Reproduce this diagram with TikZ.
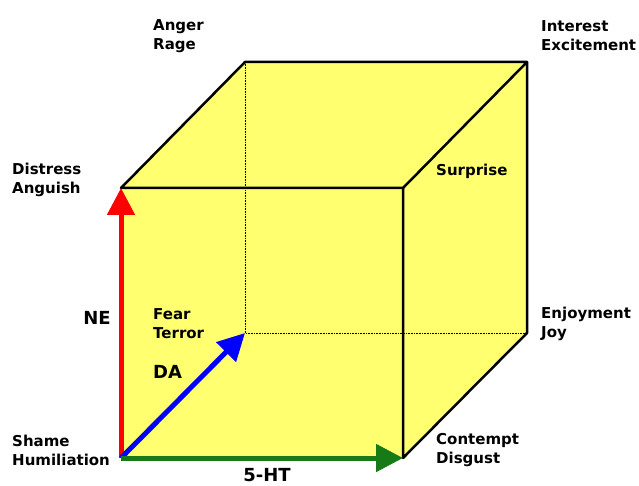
\documentclass[tikz,border=0pt]{standalone}
\usepackage{fontspec}
\setmainfont{DejaVu Sans}
\usepackage{xcolor}
\usepackage{tikz}
\usetikzlibrary{positioning,arrows.meta}
\definecolor{cubeyellow}{RGB}{255,255,112}
\definecolor{htgreen}{RGB}{22,122,22}

\begin{document}
\begin{tikzpicture}[x=1pt, y=-1pt,
    edge/.style={line width=2.5pt, line join=round},
    hidden/.style={densely dotted, line width=0.6pt},
    axis/.style={line width=5pt, -{Triangle[length=27pt,width=27pt]}},
    emo/.style={font=\bfseries\fontsize{15}{19}\selectfont, align=left, inner sep=0pt},
    nt/.style={emo, font=\bfseries\fontsize{18}{19}\selectfont}]
  \useasboundingbox (0,0) rectangle (639,486);

  % corners of the cube
  \coordinate (shame)    at (121,458);
  \coordinate (distress) at (121,188);
  \coordinate (surprise) at (403,188);
  \coordinate (contempt) at (403,458);
  \coordinate (fear)     at (245,333);
  \coordinate (anger)    at (245,62);
  \coordinate (interest) at (527,62);
  \coordinate (enjoy)    at (527,333);

  \fill[cubeyellow] (shame) -- (distress) -- (anger) -- (interest)
    -- (enjoy) -- (contempt) -- cycle;
  \draw[hidden] (anger) -- (fear) -- (enjoy);
  \draw[edge] (distress) -- (anger) -- (interest) -- (surprise) -- cycle;
  \draw[edge] (surprise) -- (contempt) -- (enjoy) -- (interest);

  % transmitter axes
  \draw[axis, red] (shame) -- (distress);
  \draw[axis, blue] (shame) -- (fear);
  \draw[axis, htgreen] (shame) -- (contempt);

  % labels
  \node[emo, anchor=west] (angerlbl)    at (153,36)  {Anger\\Rage};
  \node[emo, anchor=west] (interestlbl) at (541,36)  {Interest\\Excitement};
  \node[emo, anchor=west] (distresslbl) at (12,180)  {Distress\\Anguish};
  \node[emo, anchor=west] (surpriselbl) at (436,171) {Surprise};
  \node[emo, anchor=west] (fearlbl)     at (153,324) {Fear\\Terror};
  \node[emo, anchor=west] (enjoylbl)    at (541,324) {Enjoyment\\Joy};
  \node[emo, anchor=west] (shamelbl)    at (12,450)  {Shame\\Humiliation};
  \node[emo, anchor=west] (contemptlbl) at (436,450) {Contempt\\Disgust};
  \node[nt] (nelbl) at (97,318) {NE};
  \node[nt, anchor=west] (dalbl) at (153,372) {DA};
  \node[nt] (htlbl) at (267,475) {5-HT};
\end{tikzpicture}
\end{document}
